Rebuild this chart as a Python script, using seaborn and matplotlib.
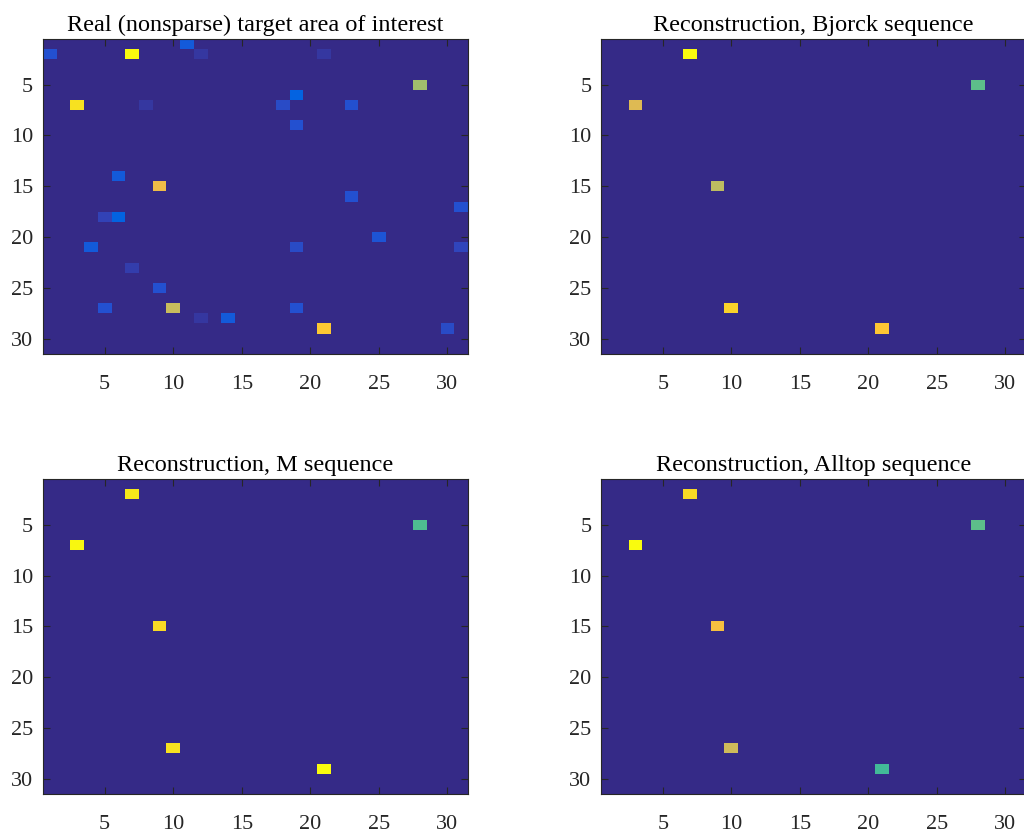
import numpy as np
import pandas as pd
import matplotlib
import matplotlib.pyplot as plt
from matplotlib.colors import LinearSegmentedColormap
import seaborn as sns
matplotlib.use('Agg')

N = 31
tick_vals = [5, 10, 15, 20, 25, 30]

titles = ["Real (nonsparse) target area of interest",
          "Reconstruction, Bjorck sequence",
          "Reconstruction, M sequence",
          "Reconstruction, Alltop sequence"]

# nonzero cells (1-based row, col) and relative amplitude
real_rows = [1, 2, 2, 2, 2, 5, 6, 7, 7, 7, 7, 9, 14, 15, 16, 17, 18, 18, 20, 21, 21, 21, 23, 25, 27, 27, 27, 28, 28, 29, 29]
real_cols = [11, 1, 7, 12, 21, 28, 19, 3, 8, 18, 23, 19, 6, 9, 23, 31, 5, 6, 25, 4, 19, 31, 7, 9, 5, 10, 19, 12, 14, 21, 30]
real_vals = [0.11, 0.09, 1.0, 0.035, 0.035, 0.66, 0.13, 0.94, 0.035, 0.08, 0.09, 0.09, 0.11, 0.81, 0.09, 0.09,
             0.06, 0.13, 0.10, 0.11, 0.08, 0.07, 0.05, 0.09, 0.09, 0.73, 0.09, 0.035, 0.11, 0.87, 0.08]

rec_rows = [2, 5, 7, 15, 27, 29]
rec_cols = [7, 28, 3, 9, 10, 21]
bjorck_vals = [1.0, 0.56, 0.77, 0.71, 0.90, 0.865]
mseq_vals = [0.96, 0.54, 0.99, 0.92, 0.94, 1.0]
alltop_vals = [0.92, 0.56, 1.0, 0.83, 0.74, 0.52]

# parula-like colormap (anchor index out of 63, rgb)
parula_idx = [0, 1, 4, 6, 8, 13, 18, 22, 26, 30, 34, 38, 42, 46, 50, 54, 57, 61, 63]
parula_rgb = [(0.2081, 0.1663, 0.5292), (0.2116, 0.1898, 0.5777), (0.1959, 0.2645, 0.7279),
              (0.1253, 0.3242, 0.8303), (0.0117, 0.3875, 0.8820), (0.0629, 0.4737, 0.8554),
              (0.0641, 0.5570, 0.8240), (0.0239, 0.6287, 0.8038), (0.0384, 0.6743, 0.7436),
              (0.1453, 0.7098, 0.6646), (0.3022, 0.7376, 0.5712), (0.4871, 0.7491, 0.4840),
              (0.6473, 0.7456, 0.4188), (0.7858, 0.7356, 0.3633), (0.9139, 0.7258, 0.3063),
              (0.9990, 0.7653, 0.2164), (0.9789, 0.8271, 0.1633), (0.9598, 0.9218, 0.0948),
              (0.9763, 0.9831, 0.0538)]
parula = LinearSegmentedColormap.from_list(
    "parula", [(i / 63, c) for i, c in zip(parula_idx, parula_rgb)], N=256)


def make_grid(rows, cols, vals):
    grid = np.zeros((N, N))
    for r, c, v in zip(rows, cols, vals):
        grid[r - 1, c - 1] = v
    return pd.DataFrame(grid, index=range(1, N + 1), columns=range(1, N + 1))


grids = [make_grid(real_rows, real_cols, real_vals),
         make_grid(rec_rows, rec_cols, bjorck_vals),
         make_grid(rec_rows, rec_cols, mseq_vals),
         make_grid(rec_rows, rec_cols, alltop_vals)]

sns.set_style("white")
plt.rcParams['font.family'] = ['Liberation Serif', 'DejaVu Serif']
axcol = '#262626'

fig = plt.figure(figsize=(10.24, 8.36), dpi=100)
boxes = [[0.042, 0.5766, 0.415, 0.3768], [0.587, 0.5766, 0.415, 0.3768],
         [0.042, 0.0502, 0.415, 0.3768], [0.587, 0.0502, 0.415, 0.3768]]

for box, grid, title in zip(boxes, grids, titles):
    ax = fig.add_axes(box)
    sns.heatmap(grid, ax=ax, cmap=parula, vmin=0, vmax=grid.values.max(),
                cbar=False, xticklabels=False, yticklabels=False)
    pos = [t - 0.5 for t in tick_vals]
    ax.set_xticks(pos)
    ax.set_xticklabels(tick_vals)
    ax.set_yticks(pos)
    ax.set_yticklabels(tick_vals, rotation=0)
    ax.set_axisbelow(False)
    ax.tick_params(direction='in', length=5, width=0.8, colors=axcol,
                   labelsize=16, top=True, right=True, bottom=True, left=True)
    ax.tick_params(axis='x', pad=15)
    ax.tick_params(axis='y', pad=7)
    for sp in ax.spines.values():
        sp.set_visible(True)
        sp.set_color(axcol)
        sp.set_linewidth(0.8)
    ax.set_title(title, fontsize=17.5, color='black', pad=6)

fig.savefig("out.png", dpi=100)
